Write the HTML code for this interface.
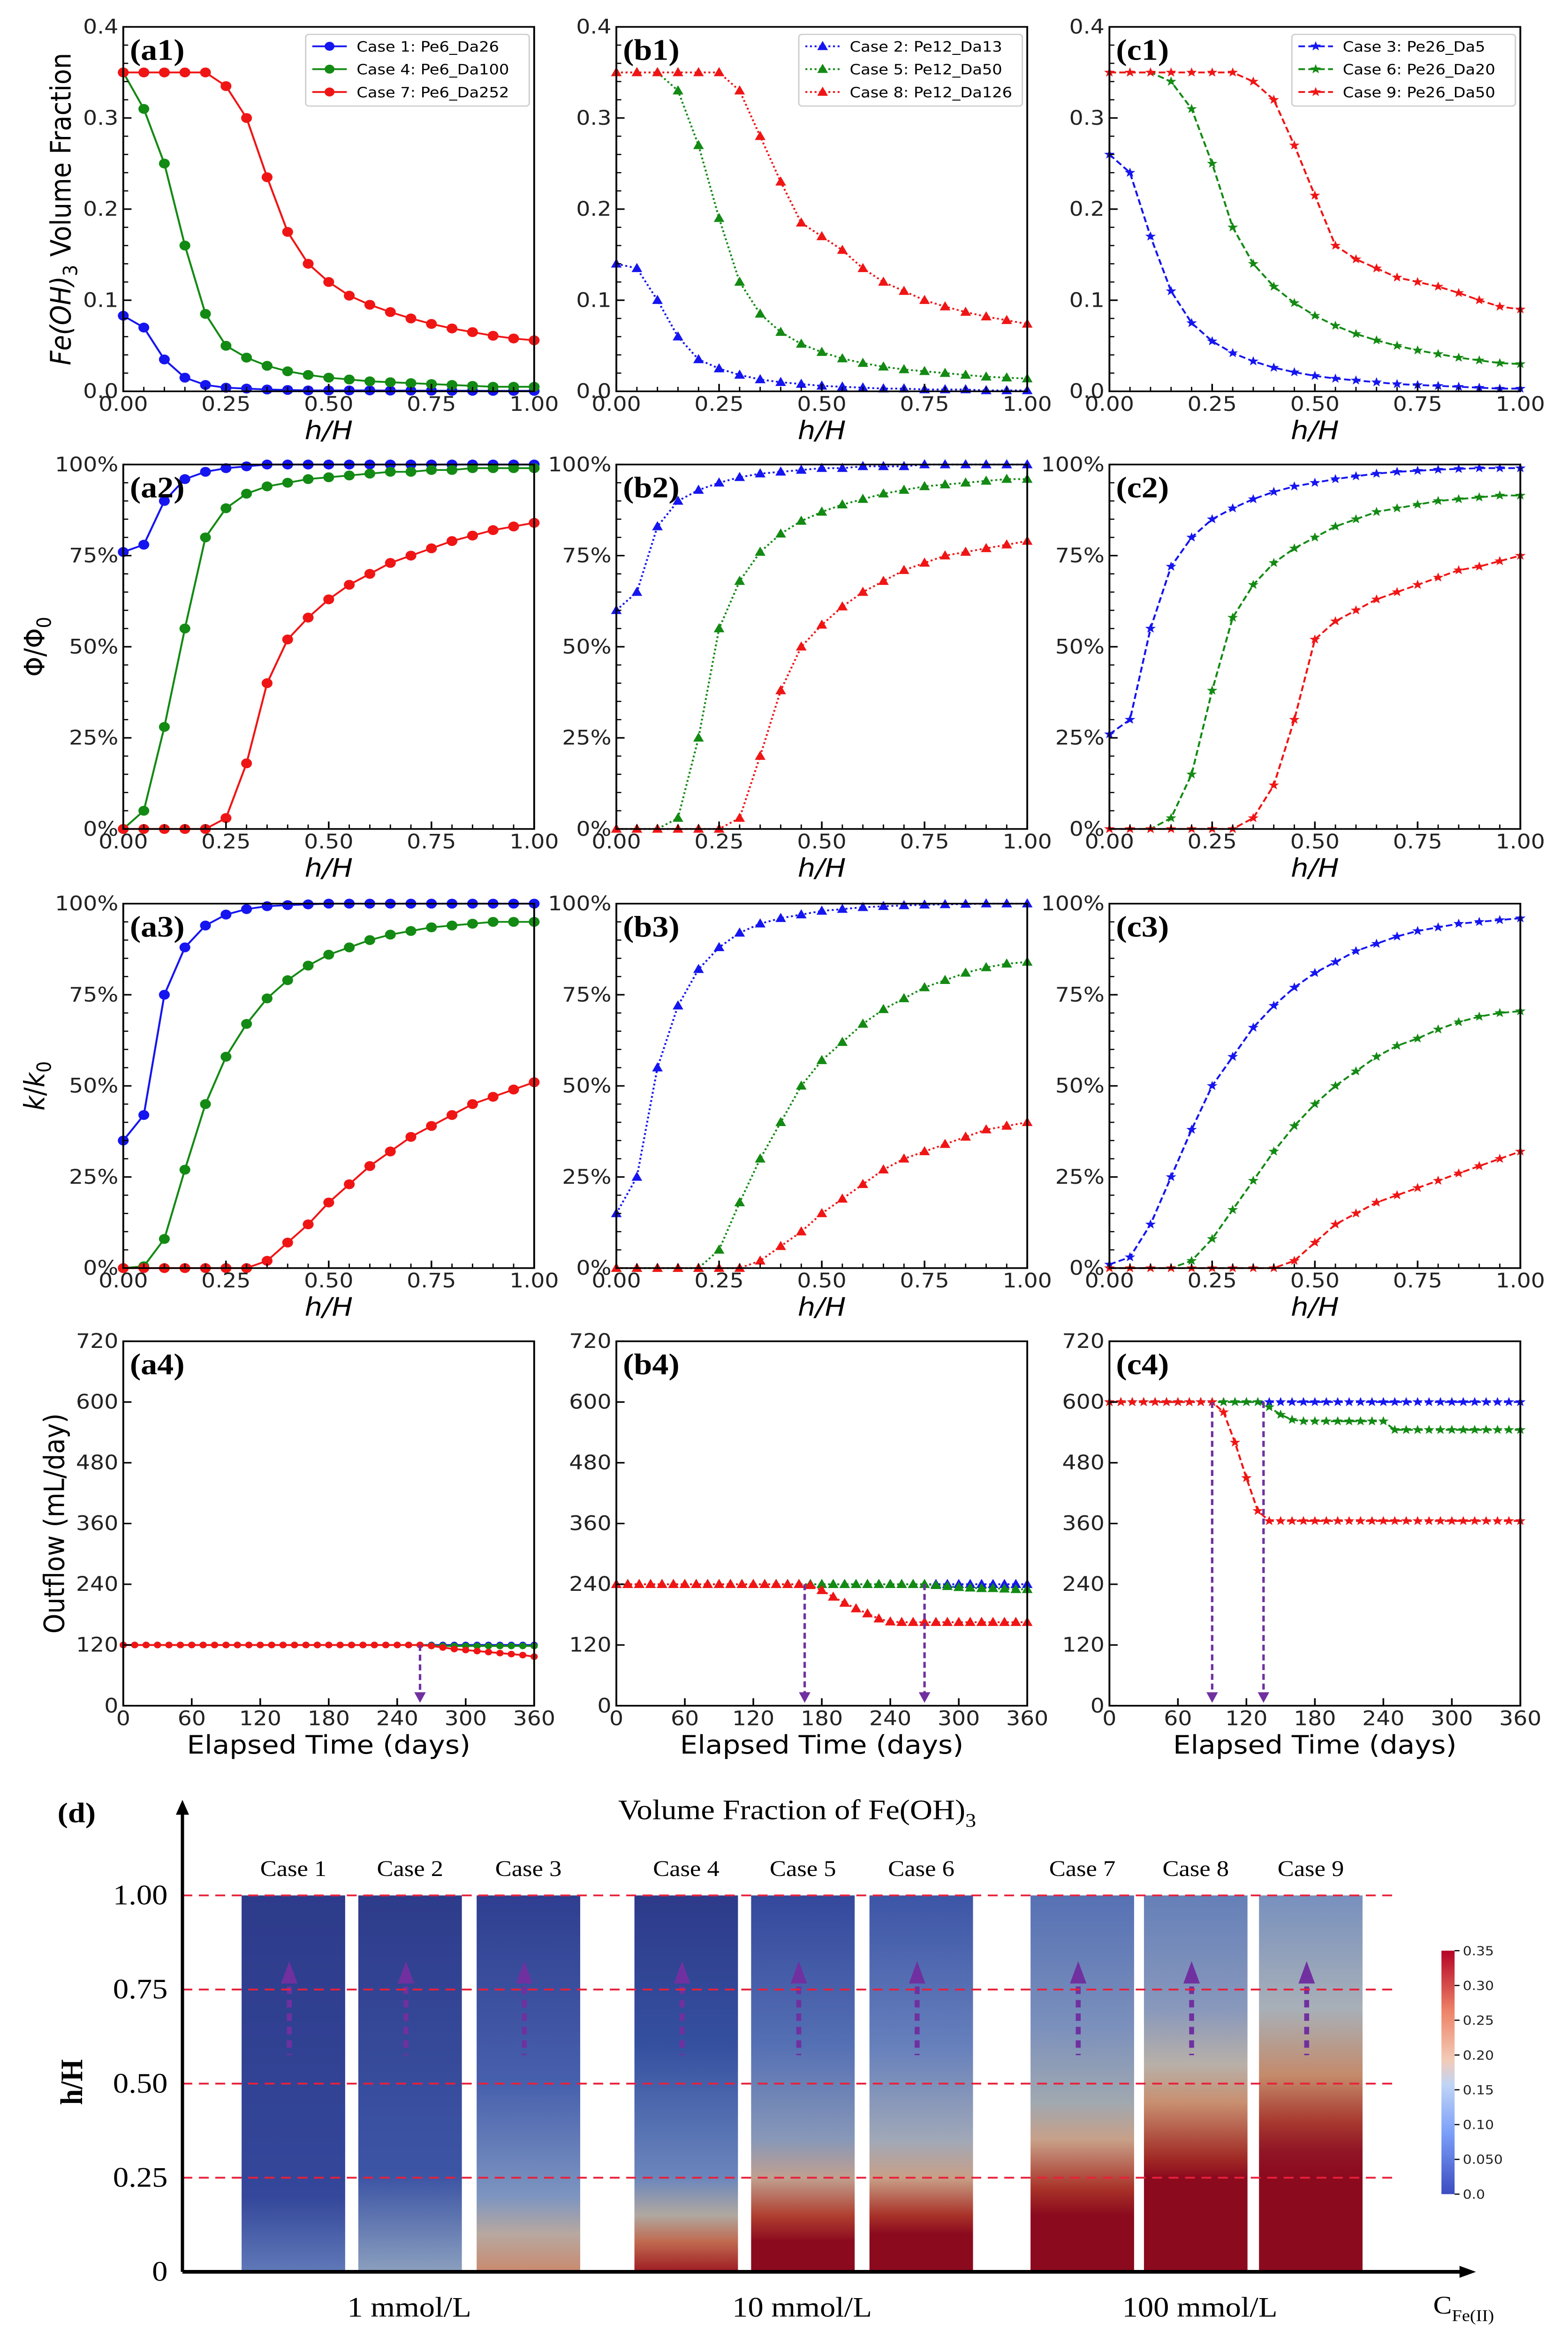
<!DOCTYPE html>
<html><head><meta charset="utf-8">
<style>
html,body{margin:0;padding:0;background:#fff;overflow:hidden;}
svg{display:block;width:100vw;height:100vh;}
</style></head>
<body>
<svg id="fig" xmlns="http://www.w3.org/2000/svg" viewBox="0 0 954 1570" preserveAspectRatio="none">
<rect x="0" y="0" width="954" height="1570" fill="#fff"/>
<g id="charts"></g>
<g id="paneld"></g>
</svg>
<script>
// ---------- DATA ----------
const hPoints = [0,0.05,0.1,0.15,0.2,0.25,0.3,0.35,0.4,0.45,0.5,0.55,0.6,0.65,0.7,0.75,0.8,0.85,0.9,0.95,1.0];
const feCase1 = [0.083,0.07,0.035,0.015,0.007,0.004,0.003,0.002,0.0015,0.001,0.001,0.001,0.001,0.0008,0.0008,0.0007,0.0006,0.0006,0.0005,0.0005,0.0005];
const feCase4 = [0.35,0.31,0.25,0.16,0.085,0.05,0.037,0.028,0.022,0.018,0.015,0.013,0.011,0.01,0.009,0.008,0.007,0.006,0.005,0.005,0.005];
const feCase7 = [0.35,0.35,0.35,0.35,0.35,0.335,0.30,0.235,0.175,0.14,0.12,0.105,0.095,0.087,0.08,0.074,0.069,0.065,0.061,0.058,0.056];
const feCase2 = [0.14,0.135,0.1,0.06,0.035,0.025,0.018,0.013,0.01,0.008,0.006,0.005,0.004,0.003,0.003,0.002,0.002,0.002,0.001,0.001,0.001];
const feCase5 = [0.35,0.35,0.35,0.33,0.27,0.19,0.12,0.085,0.065,0.052,0.043,0.036,0.031,0.027,0.024,0.022,0.02,0.018,0.016,0.015,0.014];
const feCase8 = [0.35,0.35,0.35,0.35,0.35,0.35,0.33,0.28,0.23,0.185,0.17,0.155,0.135,0.12,0.11,0.1,0.093,0.087,0.082,0.078,0.074];
const feCase3 = [0.26,0.24,0.17,0.11,0.075,0.055,0.042,0.033,0.026,0.021,0.017,0.014,0.012,0.01,0.008,0.007,0.006,0.005,0.004,0.003,0.003];
const feCase6 = [0.35,0.35,0.35,0.34,0.31,0.25,0.18,0.14,0.115,0.097,0.083,0.072,0.063,0.056,0.05,0.045,0.041,0.037,0.034,0.031,0.03];
const feCase9 = [0.35,0.35,0.35,0.35,0.35,0.35,0.35,0.34,0.32,0.27,0.215,0.16,0.145,0.135,0.125,0.12,0.115,0.108,0.1,0.093,0.09];

const phiCase1 = [76,78,90,96,98,99,99.5,100,100,100,100,100,100,100,100,100,100,100,100,100,100];
const phiCase4 = [0,5,28,55,80,88,92,94,95,96,96.5,97,97.5,98,98,98.5,98.5,99,99,99,99];
const phiCase7 = [0,0,0,0,0,3,18,40,52,58,63,67,70,73,75,77,79,80.5,82,83,84];
const phiCase2 = [60,65,83,90,93,95,96.5,97.5,98,98.5,99,99,99.5,99.5,99.5,100,100,100,100,100,100];
const phiCase5 = [0,0,0,3,25,55,68,76,81,84.5,87,89,90.5,92,93,94,94.5,95,95.5,96,96];
const phiCase8 = [0,0,0,0,0,0,3,20,38,50,56,61,65,68,71,73,75,76,77,78,79];
const phiCase3 = [26,30,55,72,80,85,88,90.5,92.5,94,95,96,96.8,97.5,98,98.3,98.6,98.8,99,99,99];
const phiCase6 = [0,0,0,3,15,38,58,67,73,77,80,83,85,87,88,89,90,90.5,91,91.5,91.5];
const phiCase9 = [0,0,0,0,0,0,0,3,12,30,52,57,60,63,65,67,69,71,72,73.5,75];

const kCase1 = [35,42,75,88,94,97,98.5,99.3,99.6,99.8,100,100,100,100,100,100,100,100,100,100,100];
const kCase4 = [0,0.5,8,27,45,58,67,74,79,83,86,88,90,91.5,92.5,93.5,94,94.5,95,95,95];
const kCase7 = [0,0,0,0,0,0,0,2,7,12,18,23,28,32,36,39,42,45,47,49,51];
const kCase2 = [15,25,55,72,82,88,92,94.5,96,97,98,98.5,99,99.3,99.5,99.7,99.8,99.9,100,100,100];
const kCase5 = [0,0,0,0,0,5,18,30,40,50,57,62,67,71,74,77,79,81,82.5,83.5,84];
const kCase8 = [0,0,0,0,0,0,0,2,6,10,15,19,23,27,30,32,34,36,38,39,40];
const kCase3 = [1,3,12,25,38,50,58,66,72,77,81,84,87,89,91,92.5,93.5,94.5,95,95.5,96];
const kCase6 = [0,0,0,0,2,8,16,24,32,39,45,50,54,58,61,63,65.5,67.5,69,70,70.5];
const kCase9 = [0,0,0,0,0,0,0,0,0,2,7,12,15,18,20,22,24,26,28,30,32];

const days = [0,10,20,30,40,50,60,70,80,90,100,110,120,130,140,150,160,170,180,190,200,210,220,230,240,250,260,270,280,290,300,310,320,330,340,350,360];
const outCase1 = [120,120,120,120,120,120,120,120,120,120,120,120,120,120,120,120,120,120,120,120,120,120,120,120,120,120,120,120,120,120,120,120,120,120,120,120,120];
const outCase4 = [120,120,120,120,120,120,120,120,120,120,120,120,120,120,120,120,120,120,120,120,120,120,120,120,120,120,120,119,118,118,118,118,118,118,118,118,118];
const outCase7 = [120,120,120,120,120,120,120,120,120,120,120,120,120,120,120,120,120,120,120,120,120,120,120,120,120,120,120,118,115,112,110,108,106,104,102,100,97];
const outCase2 = [240,240,240,240,240,240,240,240,240,240,240,240,240,240,240,240,240,240,240,240,240,240,240,240,240,240,240,240,240,240,240,240,240,240,240,240,240];
const outCase5 = [240,240,240,240,240,240,240,240,240,240,240,240,240,240,240,240,240,240,240,240,240,240,240,240,240,240,240,240,238,236,234,233,232,232,231,230,230];
const outCase8 = [240,240,240,240,240,240,240,240,240,240,240,240,240,240,240,240,240,238,228,215,203,192,182,172,166,165,165,165,165,165,165,165,165,165,165,165,165];
const outCase3 = [600,600,600,600,600,600,600,600,600,600,600,600,600,600,600,600,600,600,600,600,600,600,600,600,600,600,600,600,600,600,600,600,600,600,600,600,600];
const outCase6 = [600,600,600,600,600,600,600,600,600,600,600,600,600,600,590,575,565,562,562,562,562,562,562,562,562,545,545,545,545,545,545,545,545,545,545,545,545];
const outCase9 = [600,600,600,600,600,600,600,600,600,600,580,520,450,385,365,365,365,365,365,365,365,365,365,365,365,365,365,365,365,365,365,365,365,365,365,365,365];

const arrowsA4 = [260];
const arrowsB4 = [165, 270];
const arrowsC4 = [90, 135];

const legendA = ["Case 1: Pe6_Da26","Case 4: Pe6_Da100","Case 7: Pe6_Da252"];
const legendB = ["Case 2: Pe12_Da13","Case 5: Pe12_Da50","Case 8: Pe12_Da126"];
const legendC = ["Case 3: Pe26_Da5","Case 6: Pe26_Da20","Case 9: Pe26_Da50"];

const hTicks = [0,0.25,0.5,0.75,1.0];
const hTickLabels = ["0.00","0.25","0.50","0.75","1.00"];
const feTicks = [0,0.1,0.2,0.3,0.4];
const feTickLabels = ["0.0","0.1","0.2","0.3","0.4"];
const pctTicks = [0,25,50,75,100];
const pctTickLabels = ["0%","25%","50%","75%","100%"];
const dayTicks = [0,60,120,180,240,300,360];
const dayTickLabels = ["0","60","120","180","240","300","360"];
const outTicks = [0,120,240,360,480,600,720];
const outTickLabels = ["0","120","240","360","480","600","720"];

const caseNames = ["Case 1","Case 2","Case 3","Case 4","Case 5","Case 6","Case 7","Case 8","Case 9"];
const dTickValues = [0,0.25,0.5,0.75,1.0];
const dTickLabels = ["0","0.25","0.50","0.75","1.00"];
const concLabels = ["1 mmol/L","10 mmol/L","100 mmol/L"];
const cbarTicks = [0,0.05,0.1,0.15,0.2,0.25,0.3,0.35];
const cbarTickLabels = ["0.0","0.050","0.10","0.15","0.20","0.25","0.30","0.35"];

// ---------- DRAWING ----------
const NS = "http://www.w3.org/2000/svg";
function mk(tag, attrs, parent){
  const e = document.createElementNS(NS, tag);
  for (const k in attrs) e.setAttribute(k, attrs[k]);
  if (parent) parent.appendChild(e);
  return e;
}
const root = document.getElementById('charts');
const COLX = [75,375,675], ROWY = [18,311,605,898], PW = 250, PH = 244;
const COLORS = ["#1515f0","#138a13","#f01515"];
const DASH = ["", "1.2,1.6", "4,2"];
const FONT = "'DejaVu Sans','Liberation Sans',sans-serif";

function markerPath(type, x, y){
  if (type === 0) return null;
  if (type === 1) { const s=3.6; return `M${x},${y-s}L${x+s*0.9},${y+s*0.7}L${x-s*0.9},${y+s*0.7}Z`; }
  let d=""; const R=3.4, r=1.4;
  for (let i=0;i<10;i++){ const a=-Math.PI/2+i*Math.PI/5; const rr=i%2?r:R; d+=(i?"L":"M")+(x+rr*Math.cos(a)).toFixed(2)+","+(y+rr*Math.sin(a)).toFixed(2); }
  return d+"Z";
}

function drawPanel(opts){
  const g = mk('g', {}, root);
  
  
  const x0=opts.x0, y0=opts.y0;
  const sx = v => x0 + (v-opts.xmin)/(opts.xmax-opts.xmin)*PW;
  const sy = v => y0 + PH - (v-opts.ymin)/(opts.ymax-opts.ymin)*PH;
  opts.series.forEach((s,si)=>{
    const sg = mk('g', {}, g);
    
    
    const pts = s.y.map((v,i)=> sx(s.x[i]).toFixed(2)+","+sy(v).toFixed(2)).join(" ");
    const pl = mk('polyline', {points:pts, fill:'none', stroke:COLORS[si], 'stroke-width':1.2}, sg);
    if (DASH[opts.style]) pl.setAttribute('stroke-dasharray', DASH[opts.style]);
    s.y.forEach((v,i)=>{
      const cx=sx(s.x[i]), cy=sy(v);
      let m;
      if (opts.style===0) m = mk('circle', {cx:cx, cy:cy, r:opts.small?2.2:3.3, fill:COLORS[si]}, sg);
      else m = mk('path', {d:markerPath(opts.style,cx,cy), fill:COLORS[si]}, sg);
      
      
    });
  });
  mk('rect', {x:x0, y:y0, width:PW, height:PH, fill:'none', stroke:'#000', 'stroke-width':1.1}, g);
  opts.xticks.forEach((t,i)=>{
    const X=sx(t);
    mk('line',{x1:X,y1:y0+PH,x2:X,y2:y0+PH-5,stroke:'#000','stroke-width':1},g);
    const tx = mk('text',{x:X,y:y0+PH+13,'font-size':13.5,'text-anchor':'middle','font-family':FONT,fill:'#222'},g);
    tx.textContent = opts.xlabels[i];
    
    
  });
  opts.yticks.forEach((t,i)=>{
    const Y=sy(t);
    mk('line',{x1:x0,y1:Y,x2:x0+5,y2:Y,stroke:'#000','stroke-width':1},g);
    const tx = mk('text',{x:x0-3,y:Y+4.5,'font-size':13.5,'text-anchor':'end','font-family':FONT,fill:'#222'},g);
    tx.textContent = opts.ylabels[i];
    
    
  });
  if (opts.minorY) {
    for (let v=opts.ymin; v<=opts.ymax+1e-9; v+=opts.minorY){
      const Y=sy(v); mk('line',{x1:x0,y1:Y,x2:x0+3,y2:Y,stroke:'#000','stroke-width':0.8},g);
    }
  }
  if (opts.minorX) {
    for (let v=opts.xmin; v<=opts.xmax+1e-9; v+=opts.minorX){
      const X=sx(v); mk('line',{x1:X,y1:y0+PH,x2:X,y2:y0+PH-3,stroke:'#000','stroke-width':0.8},g);
    }
  }
  const xl = mk('text',{x:x0+PW/2,y:y0+PH+32,'font-size':17,'text-anchor':'middle','font-family':FONT,'font-style':opts.xitalic?'italic':'normal'},g);
  xl.textContent = opts.xtitle;
  
  
  const pl = mk('text',{x:x0+4,y:y0+22,'font-size':20,'font-weight':'bold','font-family':"'Liberation Serif',serif"},g);
  pl.textContent = opts.label;
  
  
  if (opts.arrows) opts.arrows.forEach(a=>{
    const X=sx(a), Yt=sy(opts.arrowFrom), Yb=y0+PH-2;
    const ag = mk('g',{},g);
    
    
    mk('line',{x1:X,y1:Yt,x2:X,y2:Yb-6,stroke:'#7030a0','stroke-width':1.5,'stroke-dasharray':'4,2.5'},ag);
    mk('path',{d:`M${X-3.5},${Yb-7}L${X+3.5},${Yb-7}L${X},${Yb}Z`,fill:'#7030a0'},ag);
  });
  if (opts.legend){
    const lg = mk('g',{},g);
    
    
    mk('rect',{x:x0+111,y:y0+5,width:136,height:48,rx:2,fill:'#fff',stroke:'#ccc','stroke-width':0.8},lg);
    opts.legend.forEach((t,i)=>{
      const Y=y0+13+i*15.3;
      const e = mk('g',{},lg);
      
      
      const ln = mk('line',{x1:x0+115,y1:Y,x2:x0+136,y2:Y,stroke:COLORS[i],'stroke-width':1.2},e);
      if (DASH[opts.style]) ln.setAttribute('stroke-dasharray', DASH[opts.style]);
      if (opts.style===0) mk('circle',{cx:x0+125.5,cy:Y,r:3,fill:COLORS[i]},e);
      else mk('path',{d:markerPath(opts.style,x0+125.5,Y),fill:COLORS[i]},e);
      const tx = mk('text',{x:x0+142,y:Y+3.5,'font-size':9.6,'font-family':FONT},e);
      tx.textContent = t;
    });
  }
}

const feSets = [[feCase1,feCase4,feCase7],[feCase2,feCase5,feCase8],[feCase3,feCase6,feCase9]];
const phiSets = [[phiCase1,phiCase4,phiCase7],[phiCase2,phiCase5,phiCase8],[phiCase3,phiCase6,phiCase9]];
const kSets = [[kCase1,kCase4,kCase7],[kCase2,kCase5,kCase8],[kCase3,kCase6,kCase9]];
const outSets = [[outCase1,outCase4,outCase7],[outCase2,outCase5,outCase8],[outCase3,outCase6,outCase9]];
const ids = [[1,4,7],[2,5,8],[3,6,9]];
const letters = ["a","b","c"];
const legends = [legendA,legendB,legendC];
const arrowSets = [arrowsA4,arrowsB4,arrowsC4];
const arrowFrom = [120,240,600];

for (let c=0;c<3;c++){
  drawPanel({name:`panel-${letters[c]}1-fe-oh3`, x0:COLX[c], y0:ROWY[0], xmin:0,xmax:1,ymin:0,ymax:0.4, style:c,
    series: feSets[c].map((y,i)=>({id:ids[c][i], x:hPoints, y:y})),
    xticks:hTicks, xlabels:hTickLabels, yticks:feTicks, ylabels:feTickLabels, minorY:0.02, minorX:0.05,
    xtitle:"h/H", xitalic:true, label:`(${letters[c]}1)`, legend:legends[c]});
  drawPanel({name:`panel-${letters[c]}2-porosity`, x0:COLX[c], y0:ROWY[1], xmin:0,xmax:1,ymin:0,ymax:100, style:c,
    series: phiSets[c].map((y,i)=>({id:ids[c][i], x:hPoints, y:y})),
    xticks:hTicks, xlabels:hTickLabels, yticks:pctTicks, ylabels:pctTickLabels, minorY:5, minorX:0.05,
    xtitle:"h/H", xitalic:true, label:`(${letters[c]}2)`});
  drawPanel({name:`panel-${letters[c]}3-permeability`, x0:COLX[c], y0:ROWY[2], xmin:0,xmax:1,ymin:0,ymax:100, style:c,
    series: kSets[c].map((y,i)=>({id:ids[c][i], x:hPoints, y:y})),
    xticks:hTicks, xlabels:hTickLabels, yticks:pctTicks, ylabels:pctTickLabels, minorY:5, minorX:0.05,
    xtitle:"h/H", xitalic:true, label:`(${letters[c]}3)`});
  drawPanel({name:`panel-${letters[c]}4-outflow`, x0:COLX[c], y0:ROWY[3], xmin:0,xmax:360,ymin:0,ymax:720, style:c, small:true,
    series: outSets[c].map((y,i)=>({id:ids[c][i], x:days, y:y})),
    xticks:dayTicks, xlabels:dayTickLabels, yticks:outTicks, ylabels:outTickLabels,
    xtitle:"Elapsed Time (days)", xitalic:false, label:`(${letters[c]}4)`,
    arrows:arrowSets[c], arrowFrom:arrowFrom[c]});
}
function ytitle(txt, cx, cy, name){
  const t = mk('text',{x:0,y:0,transform:`translate(${cx},${cy}) rotate(-90)`,'font-size':17,'text-anchor':'middle','font-family':FONT},root);
  t.innerHTML = txt;
  
  
}
ytitle('<tspan font-style="italic">Fe(OH)</tspan><tspan font-size="12" dy="4">3</tspan><tspan dy="-4"> Volume Fraction</tspan>', 43, 140, 'y-axis-title-fe-oh3');
ytitle('Φ/Φ<tspan font-size="12" dy="4">0</tspan>', 27, 433, 'y-axis-title-porosity');
ytitle('<tspan font-style="italic">k</tspan>/<tspan font-style="italic">k</tspan><tspan font-size="12" dy="4">0</tspan>', 27, 727, 'y-axis-title-permeability');
ytitle('Outflow (mL/day)', 39, 1020, 'y-axis-title-outflow');

// ---------- PANEL D ----------
const barGradients = [
  [[0,"#2e3b8b"],[0.8,"#34479a"],[1,"#6079b8"]],
  [[0,"#2e3b8b"],[0.75,"#3d55a5"],[1,"#8b9fbe"]],
  [[0,"#2f3e90"],[0.5,"#4760ad"],[0.8,"#7d95c0"],[0.9,"#b8a8a0"],[1,"#c98a6e"]],
  [[0,"#2e3a8a"],[0.4,"#3550a0"],[0.75,"#6b86bc"],[0.85,"#b0a8a0"],[0.92,"#c06a50"],[1,"#9e1c22"]],
  [[0,"#34489c"],[0.4,"#5570b4"],[0.65,"#8898b8"],[0.75,"#c0a090"],[0.85,"#b04030"],[0.92,"#8b0a1e"],[1,"#8b0a1e"]],
  [[0,"#3d55a6"],[0.4,"#6680bc"],[0.65,"#a0a8b8"],[0.75,"#c8a088"],[0.85,"#a83228"],[0.9,"#8b0a1e"],[1,"#8b0a1e"]],
  [[0,"#5671b4"],[0.35,"#7b90bc"],[0.55,"#a0a8b0"],[0.65,"#c8a088"],[0.78,"#a83228"],[0.85,"#8b0a1e"],[1,"#8b0a1e"]],
  [[0,"#6580b8"],[0.3,"#8898bc"],[0.45,"#b8b0a8"],[0.55,"#c88f70"],[0.7,"#a02a25"],[0.75,"#8b0a1e"],[1,"#8b0a1e"]],
  [[0,"#7890be"],[0.3,"#a8b0b8"],[0.48,"#c48a6a"],[0.6,"#a83a30"],[0.68,"#901525"],[0.75,"#8b0a1e"],[1,"#8b0a1e"]]
];
const barX = [147,218,290,386,457,529,627,696,766];
(function(){
  const d = document.getElementById('paneld');
  const defs = mk('defs',{},d);
  const Y0=1521, Y1=1269;
  const sy = v => Y0 - v*(Y0-Y1);
  barGradients.forEach((gs,i)=>{
    const lg = mk('linearGradient',{id:'bg'+i,x1:0,y1:0,x2:0,y2:1},defs);
    gs.forEach(s=>mk('stop',{offset:s[0],'stop-color':s[1]},lg));
  });
  const cg = mk('linearGradient',{id:'cbar',x1:0,y1:1,x2:0,y2:0},defs);
  [[0,"#3b4cc0"],[0.25,"#7b9ff9"],[0.45,"#c0d4f5"],[0.55,"#f2cbb7"],[0.75,"#ee8468"],[1,"#b40426"]].forEach(s=>mk('stop',{offset:s[0],'stop-color':s[1]},cg));
  const serif = "'Liberation Serif',serif";
  caseNames.forEach((n,i)=>{
    const b = mk('rect',{x:barX[i],y:Y1,width:63,height:Y0-Y1,fill:`url(#bg${i})`},d);
    
    
    const t = mk('text',{x:barX[i]+31.5,y:1256,'font-size':15,'text-anchor':'middle','font-family':serif},d);
    t.textContent = n;
    
    
    const cx = barX[i]+29;
    const ar = mk('g',{},d);
    
    
    mk('path',{d:`M${cx},1313L${cx+5},1328L${cx-5},1328Z`,fill:'#7030a0'},ar);
    mk('line',{x1:cx,y1:1330,x2:cx,y2:1376,stroke:'#7030a0','stroke-width':3,'stroke-dasharray':'5,4'},ar);
  });
  dTickValues.forEach((v,i)=>{
    if (v>0) mk('line',{x1:111,y1:sy(v),x2:850,y2:sy(v),stroke:'#e8203a','stroke-width':1.2,'stroke-dasharray':'6,4'},d);
    const t = mk('text',{x:102,y:sy(v)+6,'font-size':19,'text-anchor':'end','font-family':serif},d);
    t.textContent = dTickLabels[i];
    
    
  });
  mk('line',{x1:111,y1:1521,x2:111,y2:1212,stroke:'#000','stroke-width':2},d);
  mk('path',{d:'M111,1205L107,1215L115,1215Z',fill:'#000'},d);
  mk('line',{x1:111,y1:1521,x2:890,y2:1521,stroke:'#000','stroke-width':2.5},d);
  mk('path',{d:'M898,1521L888,1517L888,1525Z',fill:'#000'},d);
  const tl = mk('text',{x:485,y:1218,'font-size':19,'text-anchor':'middle','font-family':serif},d);
  tl.innerHTML = 'Volume Fraction of Fe(OH)<tspan font-size="13" dy="5">3</tspan>';
  
  
  const dl = mk('text',{x:35,y:1220,'font-size':19,'font-weight':'bold','font-family':serif},d);
  dl.textContent = '(d)';
  
  
  const yl = mk('text',{x:0,y:0,transform:'translate(50,1394) rotate(-90)','font-size':19,'font-weight':'bold','text-anchor':'middle','font-family':serif},d);
  yl.textContent = 'h/H';
  
  
  [249,488,730].forEach((x,i)=>{
    const t = mk('text',{x:x,y:1551,'font-size':19,'text-anchor':'middle','font-family':serif},d);
    t.textContent = concLabels[i];
    
    
  });
  const cl = mk('text',{x:872,y:1549,'font-size':17,'font-family':serif},d);
  cl.innerHTML = 'C<tspan font-size="11" dy="5">Fe(II)</tspan>';
  
  
  const cb = mk('g',{},d);
  
  
  const cy0=1469, cy1=1306;
  mk('rect',{x:877,y:cy1,width:8,height:cy0-cy1,fill:'url(#cbar)'},cb);
  cbarTicks.forEach((v,i)=>{
    const Y = cy0 - v/0.35*(cy0-cy1);
    mk('line',{x1:885,y1:Y,x2:888,y2:Y,stroke:'#000','stroke-width':0.8},cb);
    const t = mk('text',{x:890,y:Y+3,'font-size':8.5,'font-family':FONT,fill:'#222'},cb);
    t.textContent = cbarTickLabels[i];
  });
})();
</script>
</body></html>
